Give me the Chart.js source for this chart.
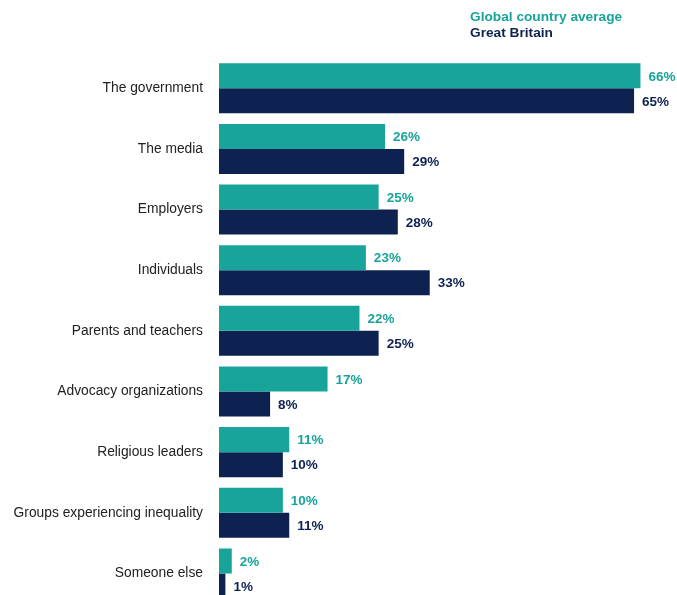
<!DOCTYPE html>
<html>
<head>
<meta charset="utf-8">
<script src="https://cdn.jsdelivr.net/npm/chart.js@4/dist/chart.umd.min.js"></script>
<style>
  html, body { margin: 0; padding: 0; background: #fff; overflow: hidden; }
  #wrap { width: 677px; height: 620px; position: relative; }
</style>
</head>
<body>
<div id="wrap"><canvas id="bars"></canvas></div>
<script>
const categories = [
  'The government',
  'The media',
  'Employers',
  'Individuals',
  'Parents and teachers',
  'Advocacy organizations',
  'Religious leaders',
  'Groups experiencing inequality',
  'Someone else'
];
const globalAvg = [66, 26, 25, 23, 22, 17, 11, 10, 2];
const greatBritain = [65, 29, 28, 33, 25, 8, 10, 11, 1];

const TEAL = '#18a49a';
const NAVY = '#0d2251';

// percentage labels at the end of each bar
const valueLabels = {
  id: 'valueLabels',
  afterDatasetsDraw(chart) {
    const ctx = chart.ctx;
    ctx.save();
    ctx.font = 'bold 13.5px "Liberation Sans", Arial, sans-serif';
    ctx.textAlign = 'left';
    ctx.textBaseline = 'middle';
    chart.data.datasets.forEach((ds, di) => {
      const meta = chart.getDatasetMeta(di);
      ctx.fillStyle = ds.backgroundColor;
      meta.data.forEach((bar, i) => {
        ctx.fillText(ds.data[i] + '%', bar.x + 8, bar.y + 1);
      });
    });
    ctx.restore();
  }
};

// series names as coloured text, top right
const textLegend = {
  id: 'textLegend',
  afterDraw(chart) {
    const ctx = chart.ctx;
    ctx.save();
    ctx.font = 'bold 13.7px "Liberation Sans", Arial, sans-serif';
    ctx.textAlign = 'left';
    ctx.textBaseline = 'middle';
    chart.data.datasets.forEach((ds, di) => {
      ctx.fillStyle = ds.backgroundColor;
      ctx.fillText(ds.label, 470, 17 + di * 16);
    });
    ctx.restore();
  }
};

new Chart(document.getElementById('bars'), {
  type: 'bar',
  data: {
    labels: categories,
    datasets: [
      { label: 'Global country average', data: globalAvg, backgroundColor: TEAL },
      { label: 'Great Britain', data: greatBritain, backgroundColor: NAVY }
    ]
  },
  options: {
    indexAxis: 'y',
    responsive: true,
    maintainAspectRatio: false,
    animation: false,
    layout: { padding: { top: 58, bottom: 11, left: 0, right: 11 } },
    datasets: {
      bar: { barPercentage: 1, categoryPercentage: 0.825 }
    },
    scales: {
      x: { display: false, min: 0, max: 70 },
      y: {
        grid: { display: false },
        border: { display: false },
        ticks: {
          padding: 8,
          color: '#222',
          font: { family: '"Liberation Sans", Arial, sans-serif', size: 13.8 }
        },
        afterFit(scale) { scale.width = 219; }
      }
    },
    plugins: {
      legend: { display: false },
      tooltip: { enabled: false }
    }
  },
  plugins: [valueLabels, textLegend]
});
</script>
</body>
</html>
